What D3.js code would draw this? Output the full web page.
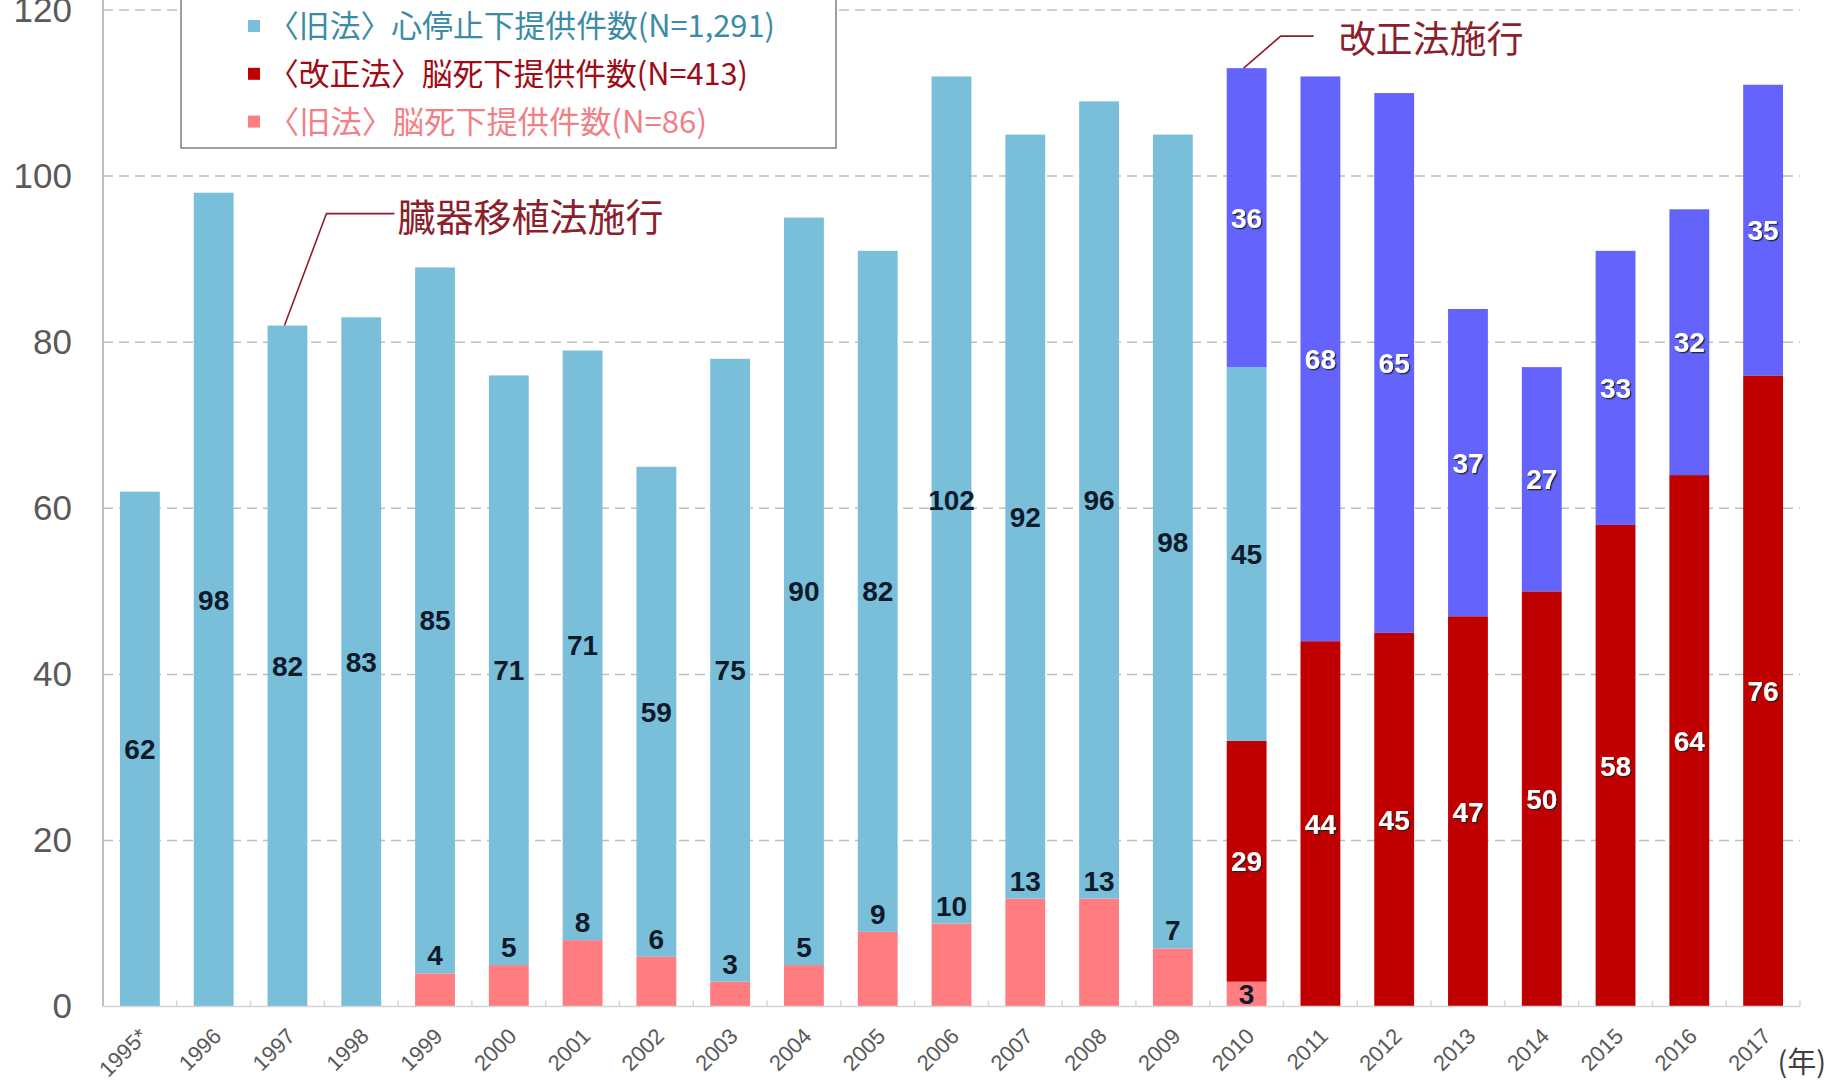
<!DOCTYPE html>
<html><head><meta charset="utf-8">
<script src="https://cdn.jsdelivr.net/npm/d3@7"></script>
<style>body{margin:0;background:#fff;overflow:hidden;} svg{display:block;}</style>
</head><body><svg id="chart" width="1831" height="1081"></svg>
<script>
// ---- data ----
const years = ["1995*","1996","1997","1998","1999","2000","2001","2002","2003","2004","2005","2006","2007","2008","2009","2010","2011","2012","2013","2014","2015","2016","2017"];
const oldBrainDeath = [0,0,0,0,4,5,8,6,3,5,9,10,13,13,7,3,0,0,0,0,0,0,0];
const newBrainDeath = [0,0,0,0,0,0,0,0,0,0,0,0,0,0,0,29,44,45,47,50,58,64,76];
const oldHeartStop  = [62,98,82,83,85,71,71,59,75,90,82,102,92,96,98,45,0,0,0,0,0,0,0];
const newHeartStop  = [0,0,0,0,0,0,0,0,0,0,0,0,0,0,0,36,68,65,37,27,33,32,35];
const yTicks = [0,20,40,60,80,100,120];
const legendLabels = ["〈旧法〉心停止下提供件数(N=1,291)","〈改正法〉脳死下提供件数(N=413)","〈旧法〉脳死下提供件数(N=86)"];
const annotations = [{year:"1997", text:"臓器移植法施行"},{year:"2010", text:"改正法施行"}];
const unitLabel = "(年)";

// ---- setup ----
const svg = d3.select("#chart");
const x = d3.scaleBand().domain(years).range([103,1800]).paddingInner(0.46).paddingOuter(0.23);
const y = d3.scaleLinear().domain([0,120]).range([1006.6,10]);

const keys = ["oldBrainDeath","newBrainDeath","oldHeartStop","newHeartStop"];
const colors = {oldBrainDeath:"#ff7c80", newBrainDeath:"#c00000", oldHeartStop:"#79bfda", newHeartStop:"#6464fc"};
const rows = years.map((yr,i)=>({year:yr, oldBrainDeath:oldBrainDeath[i], newBrainDeath:newBrainDeath[i], oldHeartStop:oldHeartStop[i], newHeartStop:newHeartStop[i]}));
const series = d3.stack().keys(keys)(rows);

const defs = svg.append("defs");
const f = defs.append("filter").attr("id","shadow").attr("x","-20%").attr("y","-20%").attr("width","150%").attr("height","150%");
f.append("feDropShadow").attr("dx",1.3).attr("dy",1.3).attr("stdDeviation",0.5).attr("flood-color","#1a1a1a").attr("flood-opacity",0.9);

// gridlines
svg.append("g").selectAll("line").data(yTicks.filter(d=>d>0)).join("line")
  .attr("x1",103).attr("x2",1800).attr("y1",d=>y(d)).attr("y2",d=>y(d))
  .attr("stroke","#bfbfbf").attr("stroke-width",1.5).attr("stroke-dasharray","10,6");

// y axis labels
const yAxis = svg.append("g").attr("transform","translate(103,0)")
  .call(d3.axisLeft(y).tickValues(yTicks).tickSize(0).tickPadding(31).tickFormat(d3.format("d")));
yAxis.select(".domain").remove();
yAxis.selectAll("text").attr("font-family","'Liberation Sans', Arial, sans-serif").attr("font-size",35).attr("fill","#595959");

// axis lines
svg.append("line").attr("x1",103).attr("x2",103).attr("y1",0).attr("y2",y(0)).attr("stroke","#bfbfbf").attr("stroke-width",2);

// bars
svg.append("g").selectAll("g").data(series).join("g").attr("fill",d=>colors[d.key])
  .selectAll("rect").data(d=>d.filter(s=>s[1]>s[0])).join("rect")
  .attr("x",d=>x(d.data.year)).attr("width",x.bandwidth())
  .attr("y",d=>y(d[1])).attr("height",d=>y(d[0])-y(d[1]));

// x axis line and ticks
svg.append("line").attr("x1",103).attr("x2",1800).attr("y1",y(0)).attr("y2",y(0)).attr("stroke","#d4d4d4").attr("stroke-width",1.5);
svg.append("g").selectAll("line").data(years.slice(1).concat(["__end"])).join("line")
  .attr("x1",d=> d==="__end" ? 1800 : x(d)-x.step()*x.paddingInner()/2)
  .attr("x2",d=> d==="__end" ? 1800 : x(d)-x.step()*x.paddingInner()/2)
  .attr("y1",y(0)).attr("y2",y(0)-6).attr("stroke","#cdd9e0").attr("stroke-width",1.5);

// x labels
const xAxis = svg.append("g").attr("transform",`translate(0,${y(0)})`)
  .call(d3.axisBottom(x).tickSize(0).tickPadding(0));
xAxis.select(".domain").remove();
xAxis.selectAll("text")
  .attr("font-family","'Liberation Sans', Arial, sans-serif").attr("font-size",22).attr("fill","#595959")
  .attr("text-anchor","end").attr("dy",null).attr("y",null)
  .attr("transform","translate(9,31) rotate(-45)");

// value labels
const labelG = svg.append("g").attr("font-family","'Liberation Sans', Arial, sans-serif").attr("font-size",28).attr("font-weight","bold").attr("text-anchor","middle");
series.forEach(s=>{
  s.forEach((d,i)=>{
    const v = d[1]-d[0];
    if(v<=0) return;
    const cx = x(d.data.year)+x.bandwidth()/2;
    const light = (s.key==="newBrainDeath"||s.key==="newHeartStop");
    let t;
    if(s.key==="oldBrainDeath" && d.data.newBrainDeath===0){
      t = labelG.append("text").attr("x",cx).attr("y",y(d[1])-8);
    } else {
      t = labelG.append("text").attr("x",cx).attr("y",y((d[0]+d[1])/2)).attr("dy","0.36em");
    }
    t.text(v).attr("fill", light ? "#ffffff" : "#0f1a2b");
    if(light) t.attr("filter","url(#shadow)");
  });
});

// legend
const lg = svg.append("g");
lg.append("rect").attr("x",181).attr("y",-5).attr("width",655).attr("height",153).attr("fill","#fff").attr("stroke","#7f7f7f").attr("stroke-width",1.5);
const legendKeys = ["oldHeartStop","newBrainDeath","oldBrainDeath"];
const legendText = ["#3a8ca6","#9e0b16","#f27f86"];
const legendLen = [503,476,435];
legendKeys.forEach((k,i)=>{
  const cy = 26 + i*47.8;
  lg.append("rect").attr("x",248).attr("y",cy-6).attr("width",12).attr("height",12).attr("fill",colors[k]);
  lg.append("text").attr("x",268).attr("y",cy+11).text(legendLabels[i])
    .attr("font-family","'Noto Sans CJK JP', sans-serif").attr("font-size",31).attr("fill",legendText[i])
    .attr("textLength",legendLen[i]+4).attr("lengthAdjust","spacingAndGlyphs");
});

// annotations
const offsets = {"1997":{dx:42,dy:-112,len:68,gap:3,fs:38}, "2010":{dx:37,dy:-32,len:33,gap:25,fs:37}};
annotations.forEach(a=>{
  const i = years.indexOf(a.year);
  const total = oldBrainDeath[i]+newBrainDeath[i]+oldHeartStop[i]+newHeartStop[i];
  const x0 = x(a.year)+x.bandwidth()/2-3, y0 = y(total);
  const o = offsets[a.year];
  const x1 = x0+o.dx, y1 = y0+o.dy, x2 = x1+o.len;
  svg.append("polyline").attr("points",`${x0},${y0} ${x1},${y1} ${x2},${y1}`)
    .attr("fill","none").attr("stroke","#8c1f2e").attr("stroke-width",1.6);
  svg.append("text").attr("x",x2+o.gap).attr("y",y1+17).text(a.text)
    .attr("font-family","'Noto Sans CJK JP', sans-serif").attr("font-size",o.fs).attr("fill","#8c1f2e");
});

// unit label
svg.append("text").attr("x",1826).attr("y",1073).attr("text-anchor","end").text(unitLabel)
  .attr("font-family","'Noto Sans CJK JP', sans-serif").attr("font-size",29).attr("fill","#404040");
</script></body></html>
